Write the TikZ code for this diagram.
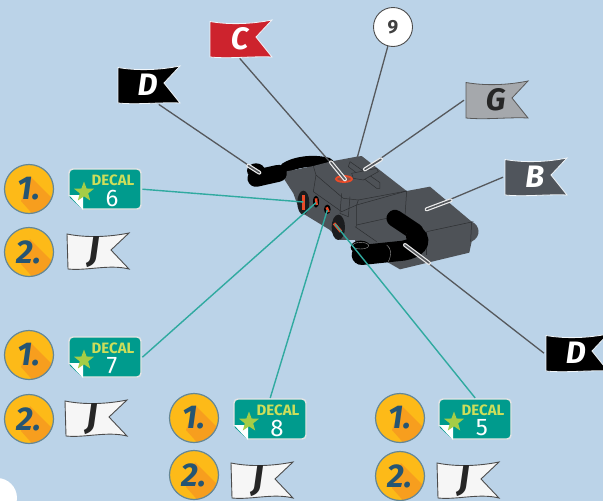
\documentclass[tikz,border=0pt]{standalone}
\usepackage{fontspec}
\setmainfont{Fira Sans}
\usetikzlibrary{shapes.geometric}
\definecolor{bgblue}{RGB}{187,211,232}
\definecolor{tealdecal}{RGB}{0,155,141}
\definecolor{decallime}{RGB}{205,222,90}
\definecolor{starlime}{RGB}{165,205,70}
\definecolor{badgeyellow}{RGB}{253,186,24}
\definecolor{badgeorange}{RGB}{247,158,30}
\definecolor{badgering}{RGB}{100,135,150}
\definecolor{badgetext}{RGB}{38,85,115}
\definecolor{body}{RGB}{78,82,87}
\definecolor{bodyline}{RGB}{45,47,50}
\definecolor{leader}{RGB}{85,88,92}
\definecolor{tealline}{RGB}{48,170,160}
\definecolor{flagred}{RGB}{205,35,45}
\definecolor{flaggrey}{RGB}{165,168,172}
\definecolor{flagdark}{RGB}{80,85,92}
\definecolor{hot}{RGB}{235,75,40}
\colorlet{haloedge}{white!80!bgblue}
\tikzset{
  flagtext/.style={inner sep=0pt,minimum width=63pt,minimum height=38pt,font=\fontsize{31}{31}\selectfont\bfseries\itshape},
  jtext/.style={inner sep=0pt,minimum width=62pt,minimum height=38pt,text=black!85,font=\fontsize{36}{36}\selectfont\bfseries\itshape},
  badgenode/.style={circle,minimum size=49pt,inner sep=0pt,text=badgetext,font=\fontsize{33}{33}\selectfont\bfseries\itshape},
  decalbox/.style={inner sep=0pt,minimum width=74pt,minimum height=42pt},
  leaderline/.style={draw=leader,line width=1.3pt},
  tealleader/.style={draw=tealline,line width=1.4pt},
  halo/.style={draw=white!85!gray,line width=4pt,line cap=round},
  core/.style={draw=leader,line width=1.6pt,line cap=round},
  bodyedge/.style={draw=bodyline,line width=0.5pt},
  tube/.style={draw=black,line cap=round}
}
% \myflag{name}{x}{y}{fill}{text}{text colour}{outline}
\newcommand{\myflag}[7]{%
  \begin{scope}[shift={(#2,#3)}]
    \fill[#4,draw=#7,line width=0.8pt]
      (0,1.5) .. controls (20,5) and (42,4) .. (62,0) -- (46,17) -- (62,37)
      .. controls (42,36) and (20,39) .. (0,37) -- cycle;
    \node[flagtext,text=#6,anchor=north west] (#1) at (-2,0) {#5};
  \end{scope}}
% \jflag{name}{x}{y}
\newcommand{\jflag}[3]{%
  \begin{scope}[shift={(#2,#3)}]
    \fill[white!93!gray,draw=black!70,line width=0.9pt]
      (0,2) .. controls (20,6) and (42,5) .. (62,1) -- (44,18) -- (62,37)
      .. controls (42,32) and (20,39) .. (1,37) -- cycle;
    \node[jtext,anchor=north west] (#1) at (-4,1) {J};
  \end{scope}}
% \mybadge{name}{x}{y}{text}
\newcommand{\mybadge}[4]{%
  \fill[badgeyellow] (#2,#3) circle (24.5);
  \begin{scope}
    \clip (#2,#3) circle (24.5);
    \fill[badgeorange] (#2+1,#3-13) -- (#2+30,#3+16) -- (#2+8,#3+30) -- (#2-8,#3+12) -- cycle;
  \end{scope}
  \draw[badgering,line width=1.2pt] (#2,#3) circle (24.5);
  \node[badgenode] (#1) at (#2,#3) {#4};}
% \mydecal{name}{x}{y}{number}
\newcommand{\mydecal}[4]{%
  \begin{scope}[shift={(#2,#3)}]
    \fill[tealdecal,draw=white!80!gray,line width=1.4pt,rounded corners=4pt] (1,1) rectangle (73,41);
    \fill[bgblue] (-1,27) -- (-1,44) -- (17,44) -- cycle;
    \fill[white] (1,27) -- (15,27) -- (15,42) -- cycle;
    \node[star,star points=5,star point ratio=2.4,fill=starlime,inner sep=0pt,minimum size=21pt] at (16,24) {};
    \node[text=decallime,font=\fontsize{15}{15}\selectfont\bfseries,inner sep=0pt] at (45,12) {DECAL};
    \node[text=white,font=\fontsize{24}{24}\selectfont,inner sep=0pt] at (44,30) {#4};
    \node[decalbox,anchor=north west] (#1) at (0,0) {};
  \end{scope}}
\begin{document}
\begin{tikzpicture}[x=1pt,y=-1pt]
\useasboundingbox (0,0) rectangle (603,501);
\clip (0,0) rectangle (603,501);
\fill[bgblue] (0,0) rectangle (603,501);
\fill[white] (-3,498) circle (20);

% machine, in the coordinates of a 3x crop at (230,130)
\begin{scope}[shift={(230,130)},x=0.3333pt,y=-0.3333pt]
  \coordinate (mD1) at (88,128);
  \coordinate (mC) at (345,148);
  \coordinate (m9) at (382,82);
  \coordinate (mG) at (405,118);
  \coordinate (mB) at (590,238);
  \coordinate (mD2) at (525,345);
  \coordinate (m6) at (220,216);
  \coordinate (m7) at (258,218);
  \coordinate (m8) at (292,240);
  \coordinate (m5) at (315,282);
  % upper tube behind body
  \draw[tube,line width=11pt] (165,115) .. controls (195,95) and (250,88) .. (295,100);
  % body
  \fill[body] (150,128) -- (250,108) -- (300,95) -- (380,80) -- (395,78) -- (530,183) -- (600,170)
    -- (725,275) .. controls (750,285) and (755,320) .. (725,335) -- (718,368) -- (510,418) -- (470,395)
    -- (380,375) -- (375,330) -- (330,330) -- (300,300) -- (210,245) -- (190,190) -- cycle;
  \draw[bodyedge] (250,108) -- (258,135) -- (250,185) -- (335,245) -- (380,225) -- (530,183);
  \draw[bodyedge] (258,135) -- (340,205) -- (385,210) -- (530,183);
  \draw[bodyedge] (385,210) -- (380,225) -- (380,290);
  \draw[bodyedge] (335,190) -- (330,250) -- (355,260) -- (360,200);
  \draw[bodyedge] (530,183) -- (525,260);
  \draw[bodyedge] (380,285) -- (470,265) -- (480,280);
  \draw[bodyedge] (590,305) -- (730,275);
  \draw[bodyedge] (590,305) -- (590,375);
  \draw[bodyedge] (725,275) -- (722,335);
  \draw[bodyedge] (375,290) -- (440,335);
  % top pieces
  \draw[bodyedge,fill=body] (360,95) -- (450,158) -- (450,175) -- (440,175) -- (355,110) -- cycle;
  \draw[bodyedge,fill=body] (365,130) -- (405,122) -- (440,115) -- (445,125) -- (400,150) -- (370,145) -- cycle;
  \draw[hot,line width=1.8pt,fill=hot!40!body] (342,147) ellipse (24 and 9);
  % holes
  \fill[bodyline!60!black] (220,218) ellipse (18 and 36);
  \fill[black] (258,215) ellipse (9 and 18);
  \fill[black] (292,238) ellipse (10 and 14);
  \fill[bodyline!60!black] (325,292) ellipse (20 and 38);
  \draw[hot,line width=3pt] (220,196) -- (220,240);
  \draw[hot,line width=2.5pt] (258,205) -- (260,225);
  \draw[hot,line width=2.5pt] (290,232) -- (296,246);
  \draw[hot,line width=3pt] (312,280) -- (333,305);
  % tubes in front
  \draw[tube,line width=17pt] (78,145) -- (145,130);
  \fill[black] (78,122) ellipse (27 and 22);
  \draw[tube,line width=17pt] (495,265) -- (555,305);
  \draw[white!50!black,line width=0.4pt] (530,310) .. controls (555,295) and (580,305) .. (585,330);
  \draw[tube,line width=20pt] (395,375) -- (520,362) .. controls (560,355) and (575,335) .. (558,318);
  \fill[black] (392,352) ellipse (30 and 20);
  \draw[white!60!black,line width=0.4pt] (392,347) ellipse (24 and 10);
  \draw[white!60!black,line width=0.4pt] (470,345) .. controls (485,355) and (485,375) .. (475,395);
\end{scope}

\myflag{flagC}{210}{20}{flagred}{C}{white}{haloedge}
\myflag{flagDa}{118}{66}{black}{D}{white}{haloedge}
\myflag{flagG}{466}{81}{flaggrey}{G}{black!85}{black!65}
\myflag{flagB}{505}{158}{flagdark}{B}{white}{haloedge}
\myflag{flagDb}{546}{334}{black}{D}{white}{haloedge}
\node[circle,draw=black!70,fill=white,line width=0.9pt,minimum size=39pt,inner sep=0pt,font=\fontsize{19}{19}\selectfont\bfseries,text=black!75] (nine) at (393,27) {9};

% leaders
\draw[leaderline] (flagC.south) -- (mC);
\draw[leaderline] (flagDa.-60) -- (mD1);
\draw[leaderline] (nine.-105) -- (m9);
\draw[leaderline] (flagG.west) -- (mG);
\draw[leaderline] (flagB.west) -- (mB);
\draw[leaderline] (flagDb.west) -- (mD2);
\path (mC) -- ++(-14,-17) coordinate (hC);
\draw[halo] (hC) -- (mC); \draw[core] (hC) -- (mC);
\path (mD1) -- ++(-11,-7) coordinate (hDa);
\draw[halo] (hDa) -- (mD1); \draw[core] (hDa) -- (mD1);
\path (mG) -- ++(16,-10) coordinate (hG);
\draw[halo] (hG) -- (mG); \draw[core] (hG) -- (mG);
\path (mB) -- ++(24,-9) coordinate (hB);
\draw[halo] (hB) -- (mB); \draw[core] (hB) -- (mB);
\path (mD2) -- ++(24,18) coordinate (hDb);
\draw[halo] (hDb) -- (mD2); \draw[core] (hDb) -- (mD2);

% steps
\mybadge{s1a}{29}{189}{1.}
\mybadge{s1b}{29}{252}{2.}
\mybadge{s2a}{29}{355}{1.}
\mybadge{s2b}{29}{419}{2.}
\mybadge{s3a}{194}{418}{1.}
\mybadge{s3b}{194}{475}{2.}
\mybadge{s4a}{400}{418}{1.}
\mybadge{s4b}{400}{476}{2.}

\mydecal{d6}{68}{168}{6}
\mydecal{d7}{68}{336}{7}
\mydecal{d8}{233}{398}{8}
\mydecal{d5}{438}{398}{5}

\jflag{j1}{67}{232}
\jflag{j2}{65}{399}
\jflag{j3}{231}{461}
\jflag{j4}{437}{461}

\draw[tealleader] (d6.east) -- (m6);
\draw[tealleader] (d7.east) -- (m7);
\draw[tealleader] (d8.north) -- (m8);
\draw[tealleader] (d5.north) -- (m5);
\end{tikzpicture}
\end{document}
